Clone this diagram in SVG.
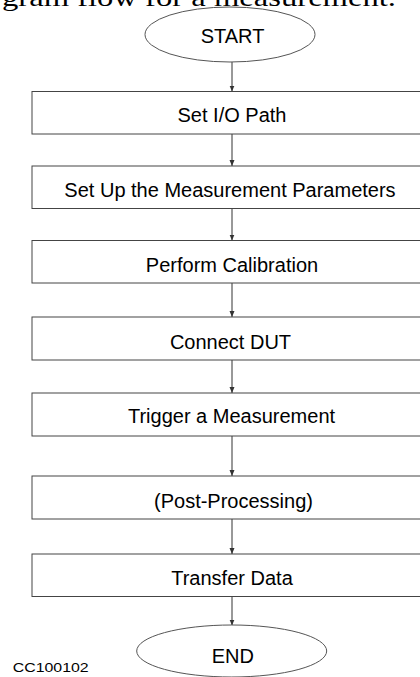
<svg xmlns="http://www.w3.org/2000/svg" width="420" height="677" viewBox="0 0 420 677">
<style>
.box{fill:#fff;stroke:#444;stroke-width:1}
.term{fill:#fff;stroke:#555;stroke-width:1}
.lbl{font-family:"Liberation Sans",Arial,sans-serif;font-size:20px;fill:#000;text-anchor:middle}
.conn{stroke:#333;stroke-width:1;fill:none;marker-end:url(#ah)}
</style>
<defs>
<marker id="ah" viewBox="0 0 6 8" refX="6" refY="4" markerWidth="6" markerHeight="8" markerUnits="userSpaceOnUse" orient="auto">
<path d="M0,1.5 L6,4 L0,6.5 Z" fill="#333"/>
</marker>
</defs>
<rect width="420" height="677" fill="#fff"/>
<text x="2" y="6" font-family="'Liberation Serif',serif" font-size="26" textLength="394" lengthAdjust="spacingAndGlyphs">gram flow for a measurement.</text>
<g id="connectors">
<line class="conn" x1="232" y1="62" x2="232" y2="91.5"/>
<line class="conn" x1="232" y1="134" x2="232" y2="166"/>
<line class="conn" x1="232" y1="208.5" x2="232" y2="240.5"/>
<line class="conn" x1="232" y1="283" x2="232" y2="317"/>
<line class="conn" x1="232" y1="360" x2="232" y2="393"/>
<line class="conn" x1="232" y1="436" x2="232" y2="476"/>
<line class="conn" x1="232" y1="519" x2="232" y2="554"/>
<line class="conn" x1="232" y1="596.5" x2="232" y2="625.5"/>
</g>
<g id="start">
<ellipse class="term" cx="230" cy="34.5" rx="85" ry="27.5"/>
<text class="lbl" x="232.5" y="43" font-size="21">START</text>
</g>
<g id="n1">
<rect class="box" x="32" y="91.5" width="400" height="42.5"/>
<text class="lbl" x="232" y="122">Set I/O Path</text>
</g>
<g id="n2">
<rect class="box" x="32" y="166" width="400" height="42.5"/>
<text class="lbl" x="230" y="196.5">Set Up the Measurement Parameters</text>
</g>
<g id="n3">
<rect class="box" x="32" y="240.5" width="400" height="42.5"/>
<text class="lbl" x="232" y="271.5">Perform Calibration</text>
</g>
<g id="n4">
<rect class="box" x="32" y="317" width="400" height="43"/>
<text class="lbl" x="230.5" y="349">Connect DUT</text>
</g>
<g id="n5">
<rect class="box" x="32" y="393" width="400" height="43"/>
<text class="lbl" x="231.5" y="423.3">Trigger a Measurement</text>
</g>
<g id="n6">
<rect class="box" x="32" y="476" width="400" height="43"/>
<text class="lbl" x="233.5" y="508">(Post-Processing)</text>
</g>
<g id="n7">
<rect class="box" x="32" y="554" width="400" height="42.5"/>
<text class="lbl" x="232" y="585">Transfer Data</text>
</g>
<g id="end">
<ellipse class="term" cx="231.7" cy="651" rx="95" ry="26"/>
<text class="lbl" x="232.8" y="662.7">END</text>
</g>
<text x="12.7" y="671.5" font-family="'Liberation Sans',Arial,sans-serif" font-size="13" textLength="76" lengthAdjust="spacingAndGlyphs">CC100102</text>
</svg>
